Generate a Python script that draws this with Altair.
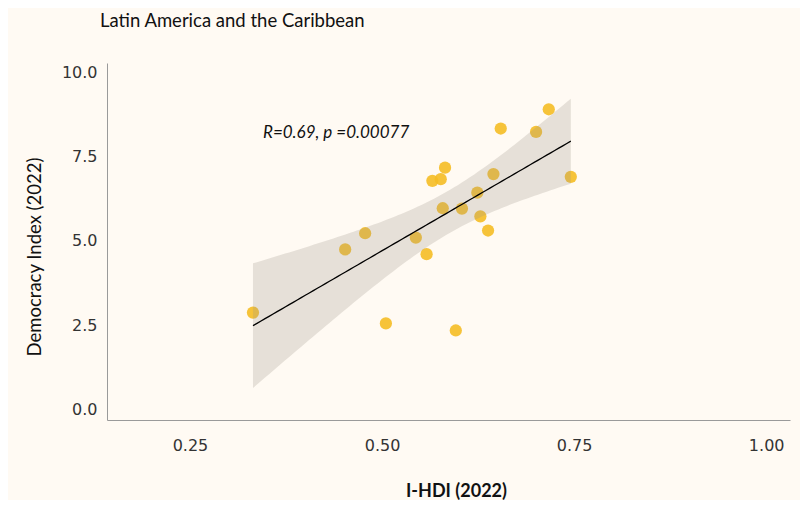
import altair as alt
import pandas as pd
import numpy as np

# I-HDI (2022) and Democracy Index (2022), Latin America and the Caribbean
ihdi = [0.332, 0.505, 0.596, 0.452, 0.478, 0.544, 0.558, 0.579, 0.604, 0.5655,
        0.5764, 0.582, 0.624, 0.628, 0.638, 0.645, 0.6545, 0.7005, 0.717, 0.7457]
demo = [2.88, 2.56, 2.35, 4.75, 5.23, 5.10, 4.61, 5.97, 5.96, 6.78,
        6.83, 7.17, 6.43, 5.73, 5.31, 6.98, 8.33, 8.23, 8.90, 6.90]

title_text = "Latin America and the Caribbean"
annot_text = "R=0.69, p =0.00077"
annot_x = [0.345]
annot_y = [8.2]
x_ticks = [0.25, 0.50, 0.75, 1.00]
y_ticks = [0.0, 2.5, 5.0, 7.5, 10.0]

df = pd.DataFrame({"x": ihdi, "y": demo})

# linear fit with 95% confidence band (as ggplot geom_smooth(method="lm"))
x = np.array(ihdi); y = np.array(demo); n = len(x)
b1, b0 = np.polyfit(x, y, 1)
resid = y - (b0 + b1 * x)
s = np.sqrt((resid ** 2).sum() / (n - 2))
xs = np.linspace(x.min(), x.max(), 80)
fit = b0 + b1 * xs
se = s * np.sqrt(1 / n + (xs - x.mean()) ** 2 / ((x - x.mean()) ** 2).sum())
tcrit = 2.100922  # t(0.975, df=18)
fitdf = pd.DataFrame({"x": xs, "fit": fit, "lo": fit - tcrit * se, "hi": fit + tcrit * se})

xscale = alt.Scale(domain=[0.142, 1.031], nice=False, zero=False)
yscale = alt.Scale(domain=[-0.3, 10.27], nice=False, zero=False)

xaxis = alt.Axis(title="I-HDI (2022)", values=x_ticks, format=".2f", ticks=False, grid=False,
                 domainColor="#9a9a9a", labelFont="DejaVu Sans", labelFontSize=16,
                 labelColor="#333333", labelPadding=17, titleFont="Lato", titleFontSize=18,
                 titleFontWeight="bold", titleColor="#111111", titlePadding=29, titleX=349)
yaxis = alt.Axis(title="Democracy Index (2022)", values=y_ticks, format=".1f", ticks=False,
                 grid=False, domainColor="#9a9a9a", labelFont="DejaVu Sans", labelFontSize=16,
                 labelColor="#333333", labelPadding=10, titleFont="Lato", titleFontSize=18.5,
                 titleFontWeight="normal", titleColor="#111111", titlePadding=17, titleY=193.5)

points = alt.Chart(df).mark_circle(size=150, color="#F5BC25", opacity=0.9).encode(
    x=alt.X("x:Q", scale=xscale, axis=xaxis),
    y=alt.Y("y:Q", scale=yscale, axis=yaxis),
)
band = alt.Chart(fitdf).mark_area(color="#9b9589", opacity=0.25).encode(
    x=alt.X("x:Q", scale=xscale), y=alt.Y("lo:Q", scale=yscale), y2="hi:Q"
)
line = alt.Chart(fitdf).mark_line(color="#000000", strokeWidth=1.3).encode(
    x=alt.X("x:Q", scale=xscale), y=alt.Y("fit:Q", scale=yscale)
)
annot = alt.Chart(pd.DataFrame({"x": annot_x, "y": annot_y, "t": [annot_text]})).mark_text(
    align="left", baseline="middle", font="Lato", fontSize=17, fontStyle="italic", color="#111111"
).encode(x=alt.X("x:Q", scale=xscale), y=alt.Y("y:Q", scale=yscale), text="t:N")

chart = alt.layer(points, band, line, annot).properties(
    width=683, height=357,
    title=alt.Title(title_text, anchor="start", frame="group", dx=-7, offset=33,
                    font="Lato", fontSize=18.5, fontWeight="normal", color="#111111"),
    autosize=alt.AutoSizeParams(type="none"),
    padding={"left": 99, "top": 55, "right": 10, "bottom": 80},
).configure(background="#FFFAF3").configure_view(stroke=None)

chart.save("out.html", embed_options={"renderer": "svg", "actions": False})
